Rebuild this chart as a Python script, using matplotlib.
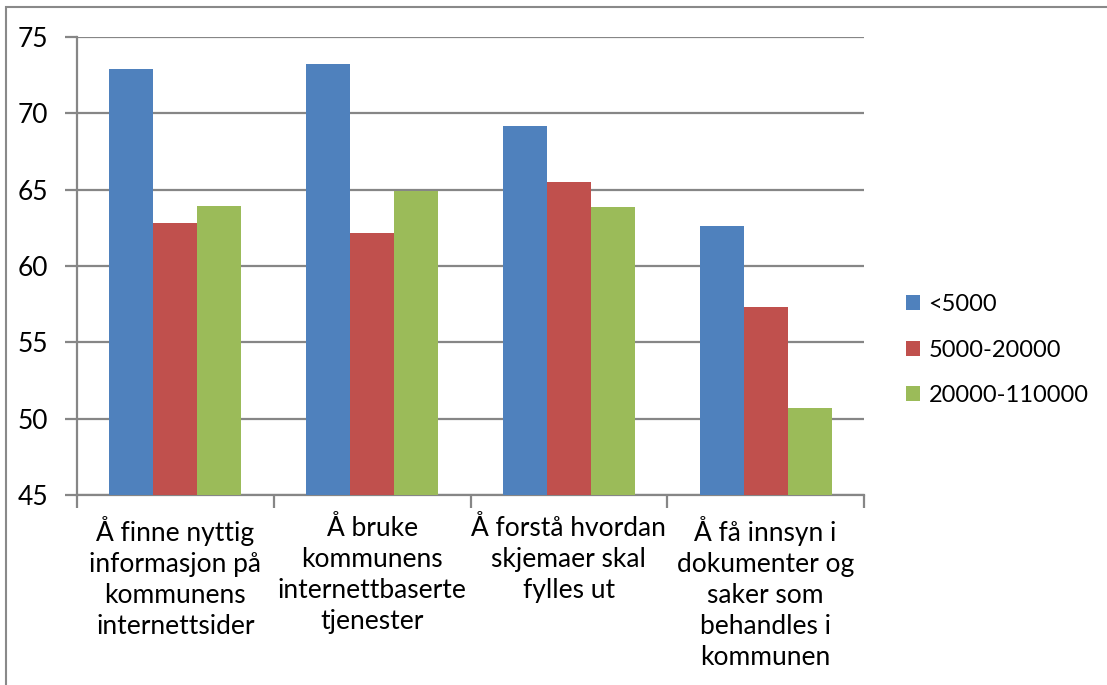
import matplotlib
matplotlib.use('Agg')
import matplotlib.pyplot as plt
import numpy as np
from matplotlib.patches import Rectangle

# Values
categories = [
    "Å finne nyttig\ninformasjon på\nkommunens\ninternettsider",
    "Å bruke\nkommunens\ninternettbaserte\ntjenester",
    "Å forstå hvordan\nskjemaer skal\nfylles ut",
    "Å få innsyn i\ndokumenter og\nsaker som\nbehandles i\nkommunen",
]
series_names = ["<5000", "5000-20000", "20000-110000"]
small = [72.93, 73.26, 69.17, 62.64]
medium = [62.83, 62.17, 65.50, 57.31]
large = [63.91, 64.89, 63.86, 50.68]
yticks = [45, 50, 55, 60, 65, 70, 75]

colors = ['#4f81bd', '#c0504d', '#9bbb59']
grid_col = '#868686'

plt.rcParams['font.family'] = ['Lato', 'DejaVu Sans']

W, H = 1107, 685
fig = plt.figure(figsize=(W / 100, H / 100), dpi=100)
ax = fig.add_axes([77 / W, 1 - 495 / H, (864 - 77) / W, (495 - 37) / H])

# outer chart border (cut off on the right and bottom)
fig.add_artist(Rectangle((6 / W, -0.1), 1.2, 1 - 7 / H + 0.1, transform=fig.transFigure,
                         fill=False, edgecolor='#898989', linewidth=1.5))

x = np.arange(len(categories))
w = 0.2235
for i, (vals, name) in enumerate(zip([small, medium, large], series_names)):
    ax.bar(x + (i - 1) * w, np.array(vals) - 45, w, bottom=45, color=colors[i],
           label=name, zorder=3)

ax.set_xlim(-0.5, 3.5)
ax.set_ylim(45, 75)
ax.set_yticks(yticks)
ax.yaxis.grid(True, color=grid_col, linewidth=1.6, zorder=0)
for s in ['top', 'right']:
    ax.spines[s].set_visible(False)
for s in ['left', 'bottom']:
    ax.spines[s].set_color(grid_col)
    ax.spines[s].set_linewidth(1.6)

fs = 19
ax.tick_params(axis='y', length=9, width=1.6, color=grid_col, labelsize=fs, pad=12)
ax.set_xticks(x)
ax.set_xticklabels(categories, fontsize=fs, linespacing=1.3, va='top')
ax.tick_params(axis='x', which='major', length=0, pad=15)
ax.set_xticks(np.arange(-0.5, 4.0, 1.0), minor=True)
ax.tick_params(axis='x', which='minor', length=9, width=1.6, color=grid_col)

fig.legend(*ax.get_legend_handles_labels(), loc='center left',
           bbox_to_anchor=(906 / W, 1 - 350 / H), frameon=False, fontsize=17,
           borderpad=0, borderaxespad=0,
           handlelength=0.6, handleheight=0.6, handletextpad=0.35, labelspacing=1.05)

fig.savefig('out.png', dpi=100)
